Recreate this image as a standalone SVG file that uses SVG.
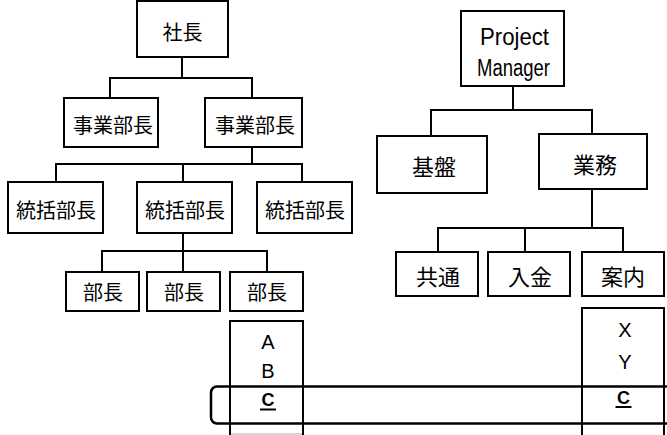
<svg xmlns="http://www.w3.org/2000/svg" width="667" height="435" viewBox="0 0 667 435">
<style>
.box{fill:#fff;stroke:#000;stroke-width:2}
.open{fill:none;stroke:#000;stroke-width:2}
.jl{font-family:"Noto Sans CJK JP","Noto Sans CJK SC",sans-serif;font-size:20px;text-anchor:middle;fill:#000}
.jr{font-family:"Noto Sans CJK JP","Noto Sans CJK SC",sans-serif;font-size:22px;text-anchor:middle;fill:#000}
.lt{font-family:"Liberation Sans",Arial,sans-serif;font-size:20px;text-anchor:middle;fill:#000}
.pm{font-family:"Liberation Sans",Arial,sans-serif;font-size:23px;fill:#000}
.cb{font-family:"Liberation Sans",Arial,sans-serif;font-size:18px;font-weight:bold;text-anchor:middle;fill:#000}
#connectors line,#connectors polyline{stroke:#000;stroke-width:2;fill:none}
</style>
<rect width="667" height="435" fill="#fff"/>
<g id="connectors">
<line x1="182" y1="57" x2="182" y2="78"/>
<polyline points="110,98 110,78 252,78 252,98"/>
<line x1="252" y1="147" x2="252" y2="164"/>
<polyline points="56,182 56,164 302,164 302,182"/>
<line x1="183" y1="164" x2="183" y2="182"/>
<line x1="183" y1="233" x2="183" y2="251"/>
<polyline points="102,272 102,251 267,251 267,272"/>
<line x1="183" y1="251" x2="183" y2="272"/>
<line x1="513" y1="86" x2="513" y2="110"/>
<polyline points="431,136 431,110 592,110 592,134"/>
<line x1="592" y1="189" x2="592" y2="228"/>
<polyline points="438,252 438,228 623,228 623,252"/>
<line x1="525" y1="228" x2="525" y2="252"/>
</g>
<g id="n-shacho"><rect class="box" x="137" y="1" width="91" height="56"/><text class="jl" x="182.5" y="39.5">社長</text></g>
<g id="n-jigyo1"><rect class="box" x="64" y="98" width="94" height="49"/><text class="jl" x="113" y="133">事業部長</text></g>
<g id="n-jigyo2"><rect class="box" x="205" y="98" width="97" height="49"/><text class="jl" x="255" y="133">事業部長</text></g>
<g id="n-tokatsu1"><rect class="box" x="8" y="182" width="95" height="51"/><text class="jl" x="56" y="218">統括部長</text></g>
<g id="n-tokatsu2"><rect class="box" x="137" y="182" width="95" height="51"/><text class="jl" x="185" y="218">統括部長</text></g>
<g id="n-tokatsu3"><rect class="box" x="257" y="182" width="95" height="51"/><text class="jl" x="305" y="218">統括部長</text></g>
<g id="n-bucho1"><rect class="box" x="66" y="272" width="73" height="39"/><text class="jl" x="103" y="300">部長</text></g>
<g id="n-bucho2"><rect class="box" x="147" y="272" width="73" height="39"/><text class="jl" x="184" y="300">部長</text></g>
<g id="n-bucho3"><rect class="box" x="230" y="272" width="73" height="39"/><text class="jl" x="267" y="300">部長</text></g>
<g id="n-abc">
<polyline class="open" points="230,436 230,321 303,321 303,436"/>
<line x1="231" y1="434" x2="302" y2="434" stroke="#c8c8c8" stroke-width="1.5"/>
<text class="lt" x="268" y="349">A</text>
<text class="lt" x="268" y="378">B</text>
<text class="cb" x="268" y="406">C</text>
<line x1="260" y1="409.5" x2="276" y2="409.5" stroke="#000" stroke-width="2"/>
</g>
<g id="n-pm"><rect class="box" x="461" y="11" width="103" height="75"/>
<text class="pm" x="480" y="45" textLength="69" lengthAdjust="spacingAndGlyphs">Project</text>
<text class="pm" x="477" y="76" textLength="73" lengthAdjust="spacingAndGlyphs">Manager</text></g>
<g id="n-kiban"><rect class="box" x="377" y="136" width="110" height="57"/><text class="jr" x="434" y="175">基盤</text></g>
<g id="n-gyomu"><rect class="box" x="539" y="134" width="108" height="55"/><text class="jr" x="595" y="173">業務</text></g>
<g id="n-kyotsu"><rect class="box" x="396" y="252" width="82" height="44"/><text class="jr" x="438" y="285">共通</text></g>
<g id="n-nyukin"><rect class="box" x="488" y="252" width="82" height="44"/><text class="jr" x="530" y="285">入金</text></g>
<g id="n-annai"><rect class="box" x="582" y="252" width="82" height="44"/><text class="jr" x="623" y="285">案内</text></g>
<g id="n-xyc">
<polyline class="open" points="582,436 582,308 664,308 664,436"/>
<text class="lt" x="625" y="337">X</text>
<text class="lt" x="625" y="369">Y</text>
<text class="cb" x="623.5" y="404">C</text>
<line x1="615.5" y1="407" x2="631.5" y2="407" stroke="#000" stroke-width="2"/>
</g>
<g id="highlight"><rect x="211" y="386.5" width="470" height="37" rx="6" ry="6" fill="none" stroke="#000" stroke-width="2.5"/></g>
</svg>
